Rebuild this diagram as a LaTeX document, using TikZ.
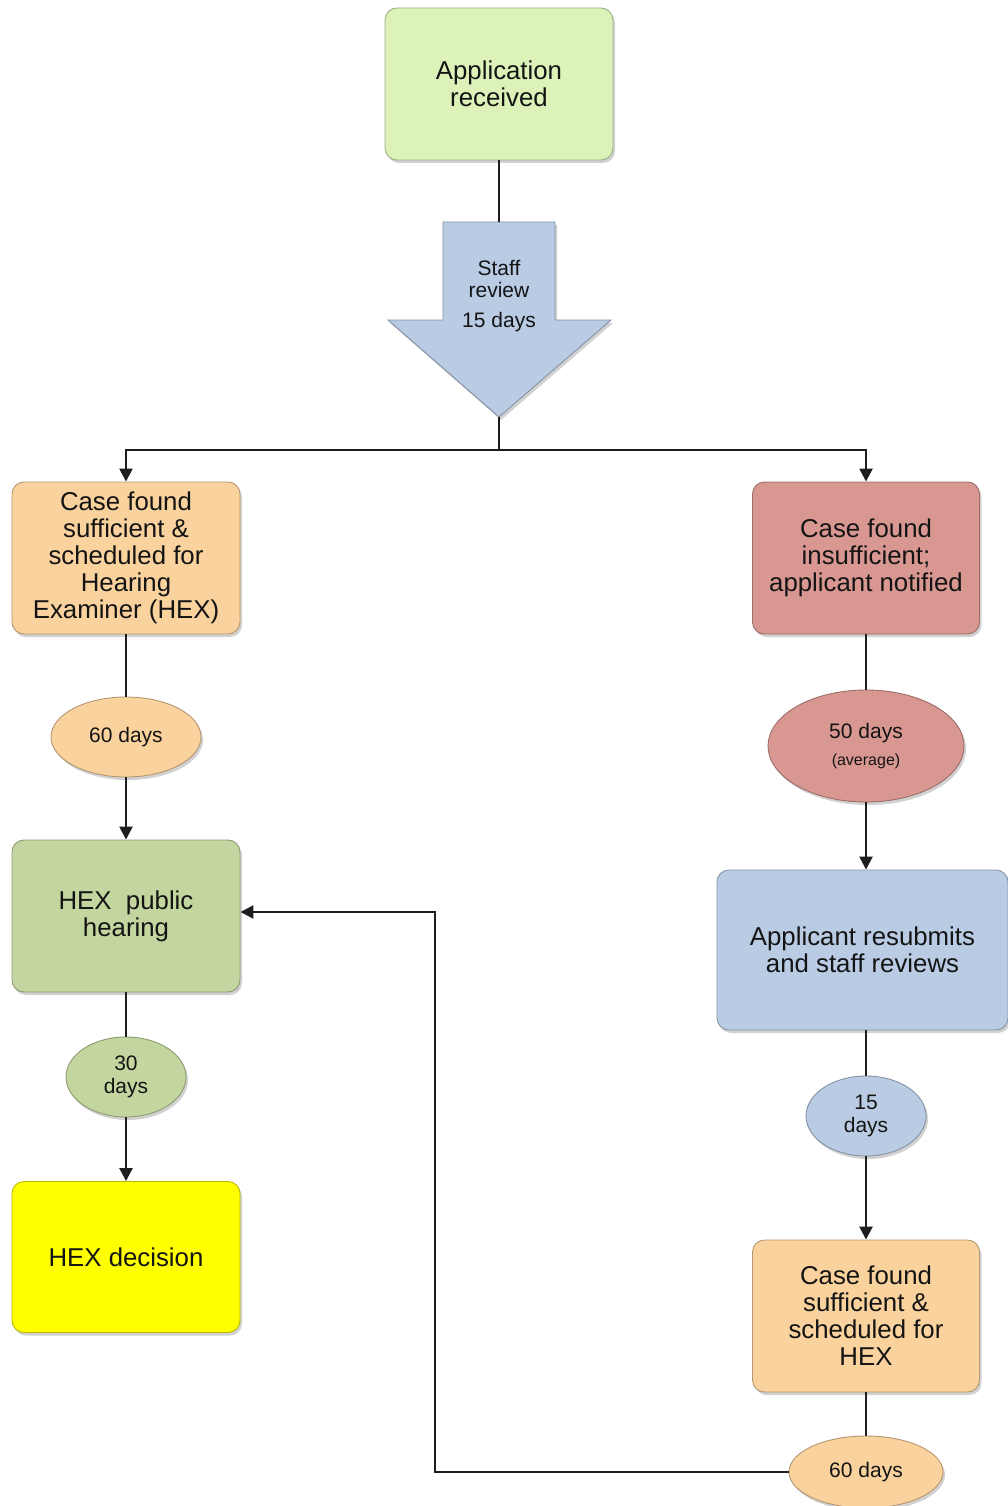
\documentclass[tikz,border=0pt]{standalone}
\usepackage{fontspec}
\setmainfont{Liberation Sans}
\usetikzlibrary{arrows.meta,shapes.geometric,shadows}
\definecolor{appgreen}{HTML}{DCF2B9}
\definecolor{revblue}{HTML}{B9CCE4}
\definecolor{sufforange}{HTML}{FAD29E}
\definecolor{insred}{HTML}{D99792}
\definecolor{hexgreen}{HTML}{C4D69F}
\definecolor{decyellow}{HTML}{FFFF00}
\definecolor{linecol}{HTML}{1E1E1E}
\begin{document}
\begin{tikzpicture}[x=1pt,y=-1pt,
  softshadow/.style={drop shadow={shadow xshift=2pt,shadow yshift=-3pt,opacity=0.18,fill=black}},
  box/.style={draw=#1!72!black, fill=#1, rounded corners=12pt, line width=0.9pt,
    align=center, inner sep=0pt, text=black!92,
    font=\fontsize{25.8}{27}\selectfont, softshadow},
  oval/.style={ellipse, draw=#1!72!black, fill=#1, line width=0.9pt,
    align=center, inner sep=0pt, text=black!92,
    font=\fontsize{21}{23}\selectfont, softshadow},
  conn/.style={draw=linecol, line width=2.5pt},
  arr/.style={conn, -{Triangle[length=13pt,width=13pt]}}]
\useasboundingbox (0,0) rectangle (1008,1506);

% top
\node[box=appgreen, minimum width=228pt, minimum height=152pt] (app) at (499,84) {Application\\received};

% staff review arrow shape
\path[draw=revblue!72!black, fill=revblue, line width=0.9pt, softshadow]
  (443,222) -- (555,222) -- (555,320) -- (611,320) -- (499,417) -- (388,320) -- (443,320) -- cycle;
\coordinate (stafftop) at (499,222);
\coordinate (stafftip) at (499,417);
\coordinate (split) at (499,450);
\node[align=center, text=black!92, font=\fontsize{21}{22}\selectfont] (staff) at (499,296) {Staff\\review\\[8pt]15 days};

% left column
\node[box=sufforange, minimum width=228pt, minimum height=152pt] (suf1) at (126,558)
  {Case found\\sufficient \&\\scheduled for\\Hearing\\Examiner (HEX)};
\node[oval=sufforange, minimum width=150pt, minimum height=80pt] (e60a) at (126,737) {60 days};
\node[box=hexgreen, minimum width=228pt, minimum height=152pt] (hexpub) at (126,916) {HEX\ \ public\\hearing};
\node[oval=hexgreen, minimum width=120pt, minimum height=80pt] (e30) at (126,1077) {30\\days};
\node[box=decyellow, minimum width=228pt, minimum height=151pt] (dec) at (126,1257) {HEX decision};

% right column
\node[box=insred, minimum width=227pt, minimum height=152pt] (insuf) at (866,558)
  {Case found\\insufficient;\\applicant notified};
\node[oval=insred, minimum width=196pt, minimum height=112pt] (e50) at (866,746)
  {50 days\\[4pt]{\fontsize{16}{18}\selectfont (average)}};
\node[box=revblue, minimum width=291pt, minimum height=160pt] (resub) at (862.5,950)
  {Applicant resubmits\\and staff reviews};
\node[oval=revblue, minimum width=120pt, minimum height=80pt] (e15) at (866,1116) {15\\days};
\node[box=sufforange, minimum width=227pt, minimum height=152pt] (suf2) at (866,1316)
  {Case found\\sufficient \&\\scheduled for\\HEX};
\node[oval=sufforange, minimum width=154pt, minimum height=72pt] (e60b) at (866,1472) {60 days};
\coordinate (turn) at (435,912);

% connectors
\draw[conn] (app.south) -- (stafftop);
\draw[conn] (stafftip) -- (split);
\draw[arr] (split) -| (suf1.north);
\draw[arr] (split) -| (insuf.north);
\draw[conn] (suf1.south) -- (e60a.north);
\draw[arr] (e60a.south) -- (hexpub.north);
\draw[conn] (hexpub.south) -- (e30.north);
\draw[arr] (e30.south) -- (dec.north);
\draw[conn] (insuf.south) -- (e50.north);
\draw[arr] (e50.south) -- (e50.south |- resub.north);
\draw[conn] (e15.north |- resub.south) -- (e15.north);
\draw[arr] (e15.south) -- (suf2.north);
\draw[conn] (suf2.south) -- (e60b.north);
\draw[arr] (e60b.west) -| (turn) -- (turn -| hexpub.east);
\end{tikzpicture}
\end{document}
